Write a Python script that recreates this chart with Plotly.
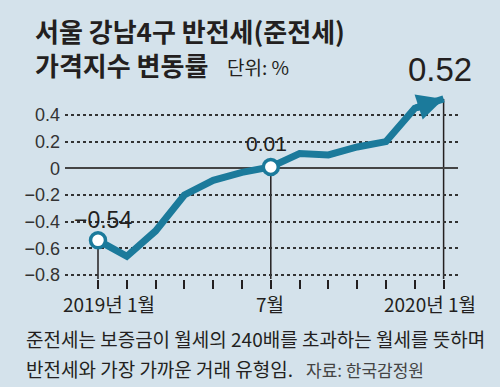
import plotly.graph_objects as go

months = list(range(13))
values = [-0.54, -0.66, -0.47, -0.20, -0.09, -0.03, 0.01, 0.11, 0.10, 0.16, 0.20, 0.45, 0.52]
ytick_vals = [0.4, 0.2, 0, -0.2, -0.4, -0.6, -0.8]
ytick_text = ["0.4", "0.2", "0", "−0.2", "−0.4", "−0.6", "−0.8"]
xlabels = {0: "2019년 1월", 6: "7월", 12: "2020년 1월"}
highlight = {0: "−0.54", 6: "0.01", 12: "0.52"}

BG = "#d4e2eb"
TEAL = "#1b7a9b"
DARK = "#231f20"
FONT = "Noto Sans CJK KR"

Y_MIN, Y_MAX = -0.83, 0.587
X_MIN, X_MAX = -1.146, 12.5

W, H = 500, 387
L, R, T, B = 65, 42, 90, 108
pw, ph = W - L - R, H - T - B


def px2paper(x, y):
    return (x - L) / pw, (H - B - y) / ph


fig = go.Figure()

# vertical guide lines at highlighted months
for i in highlight:
    fig.add_shape(type="line", x0=months[i], x1=months[i], y0=Y_MIN, y1=values[i],
                  line=dict(color=DARK, width=1.5), layer="below")

fig.add_trace(go.Scatter(
    x=months, y=values, mode="lines",
    line=dict(color=TEAL, width=7),
    hoverinfo="skip", showlegend=False, cliponaxis=False,
))

hi_idx = [0, 6]
fig.add_trace(go.Scatter(
    x=[months[i] for i in hi_idx], y=[values[i] for i in hi_idx], mode="markers",
    marker=dict(size=15, symbol="circle", color="white", line=dict(color=TEAL, width=3.5)),
    hoverinfo="skip", showlegend=False, cliponaxis=False,
))

fig.update_xaxes(range=[X_MIN, X_MAX], showgrid=False, zeroline=False, showline=False,
                 tickvals=months, ticktext=[""] * len(months), ticks="outside", ticklen=9,
                 tickwidth=1.5, tickcolor=DARK)
fig.update_yaxes(range=[Y_MIN, Y_MAX], tickvals=ytick_vals, ticktext=ytick_text,
                 showgrid=True, gridcolor="#333333", griddash="dot", gridwidth=1.6,
                 zeroline=True, zerolinecolor="#444444", zerolinewidth=1.5,
                 showline=False, ticks="", ticklabelstandoff=4,
                 tickfont=dict(family="Liberation Sans", size=18, color="#333333"))

ann = [
    dict(text="서울 강남4구 반전세(준전세)", x=33, y=30, size=26, weight=700, color=DARK),
    dict(text="가격지수 변동률", x=33, y=65, size=26, weight=700, color=DARK),
    dict(text="단위: %", x=225, y=66, size=19, weight=400, color=DARK),
    dict(text="준전세는 보증금이 월세의 240배를 초과하는 월세를 뜻하며", x=24, y=338, size=19, weight=400, color=DARK),
    dict(text="반전세와 가장 가까운 거래 유형임.", x=24, y=368, size=19, weight=400, color=DARK),
    dict(text="자료: 한국감정원", x=304, y=369, size=17, weight=400, color="#444444"),
]
annotations = []
for a in ann:
    px, py = px2paper(a["x"], a["y"])
    annotations.append(dict(text=a["text"], xref="paper", yref="paper", x=px, y=py,
                            xanchor="left", yanchor="middle", align="left", showarrow=False,
                            font=dict(family=FONT, size=a["size"], weight=a["weight"], color=a["color"])))

# x labels
label_pos = {0: 109, 6: 270, 12: 430}
for i, t in xlabels.items():
    px, py = px2paper(label_pos[i], 303)
    annotations.append(dict(text=t, xref="paper", yref="paper", x=px, y=py,
                            xanchor="center", yanchor="middle", showarrow=False,
                            font=dict(family=FONT, size=19, color=DARK)))

# arrow head on the last segment
annotations.append(dict(text="", x=months[-1], y=values[-1], ax=months[-2], ay=values[-2],
                        xref="x", yref="y", axref="x", ayref="y", showarrow=True,
                        arrowhead=2, arrowsize=0.75, arrowwidth=7, arrowcolor=TEAL, standoff=0))

# value labels
annotations.append(dict(text=highlight[0], x=months[0], y=values[0], xref="x", yref="y",
                        xshift=5, yshift=20, showarrow=False,
                        font=dict(family="Liberation Sans", size=23, color=DARK)))
annotations.append(dict(text=highlight[6], x=months[6], y=values[6], xref="x", yref="y",
                        xshift=-4, yshift=23, showarrow=False,
                        font=dict(family="Liberation Sans", size=21, color=DARK)))
annotations.append(dict(text=highlight[12], x=months[12], y=values[12], xref="x", yref="y",
                        xshift=-4, yshift=29, showarrow=False,
                        font=dict(family="Liberation Sans", size=33, color=DARK)))

fig.update_layout(width=W, height=H, margin=dict(l=L, r=R, t=T, b=B, autoexpand=False),
                  paper_bgcolor=BG, plot_bgcolor=BG, annotations=annotations)

fig.write_html("out.html", config={"displayModeBar": False},
               post_script="document.body.style.margin='0';document.body.style.background='" + BG + "';")
